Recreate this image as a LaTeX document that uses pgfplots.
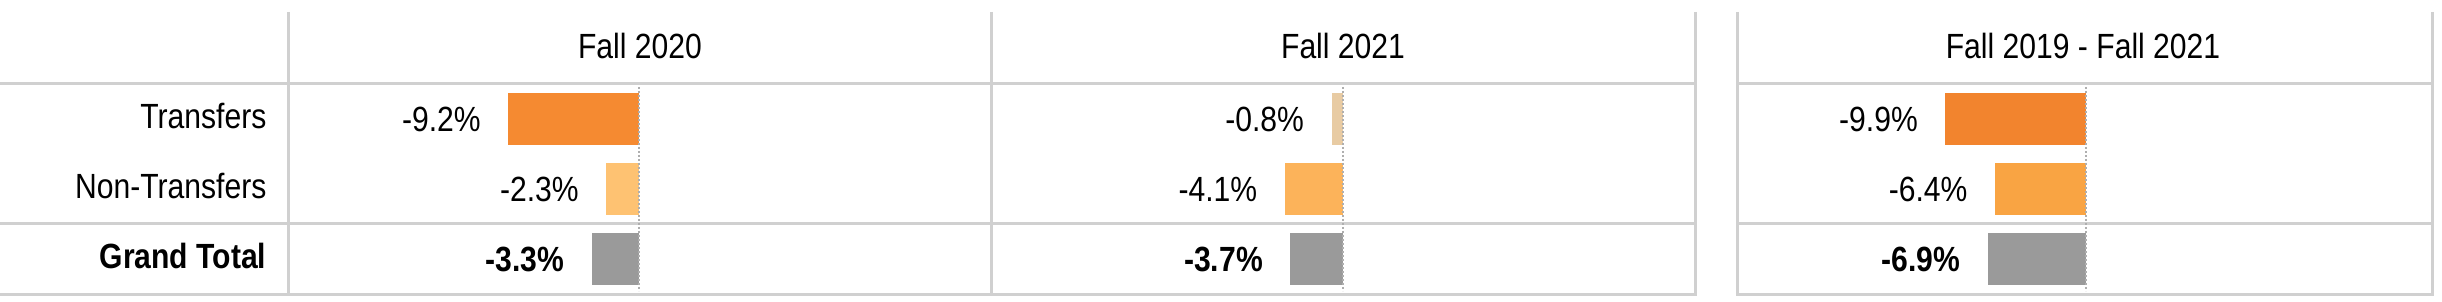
\documentclass[border=0pt]{standalone}
\usepackage{fontspec}
\setmainfont{Liberation Sans}[FakeStretch=0.86]
\usepackage{pgfplots}
\pgfplotsset{compat=1.18}
\definecolor{gridc}{HTML}{D0D0D0}
\definecolor{zeroc}{HTML}{AFAFAF}
\definecolor{tA}{HTML}{F58A31}
\definecolor{nA}{HTML}{FEC272}
\definecolor{tB}{HTML}{E8CBA3}
\definecolor{nB}{HTML}{FCB35A}
\definecolor{tC}{HTML}{F2842E}
\definecolor{nC}{HTML}{F9A443}
\definecolor{gt}{HTML}{9A9A9A}
\newcommand{\fs}{\fontsize{10.5pt}{12pt}\selectfont}
\pgfplotsset{
  panel/.style={
    scale only axis, hide axis, clip=false,
    height=63.3pt,
    anchor=south west,
    y dir=reverse, ymin=83, ymax=294,
  },
  mybar/.style={
    xbar, bar shift=0pt, bar width=52, draw=none, fill=#1,
    point meta=x,
    nodes near coords={\pgfmathprintnumber[fixed,fixed zerofill,precision=1,assume math mode=true]{\pgfplotspointmeta}\%},
    nodes near coords align={horizontal},
    every node near coord/.append style={anchor=east, inner sep=0pt, xshift=-8.1pt, font=\fs, text=black},
  },
  gtbar/.style={
    mybar=gt,
    every node near coord/.append style={font=\fs\bfseries},
  },
  zeroline/.style={draw=zeroc, line width=0.55pt, dash pattern=on 0.6pt off 0.6pt, forget plot},
}
\begin{document}
\begin{tikzpicture}
\useasboundingbox (0,0) rectangle (732.6pt,-90.6pt);
\begin{scope}[x=0.3pt,y=-0.3pt]
  % table grid
  \foreach \yy in {84,223.5,294.5}{
    \draw[gridc, line width=0.9pt] (0,\yy) -- (1696,\yy);
    \draw[gridc, line width=0.9pt] (1736,\yy) -- (2433,\yy);
  }
  \foreach \xx in {288,991,1695,1737,2432}{
    \draw[gridc, line width=0.9pt] (\xx,12) -- (\xx,296);
  }
  % headers
  \node[anchor=base, font=\fs] at (640,59) {Fall 2020};
  \node[anchor=base, font=\fs] at (1343,59) {Fall 2021};
  \node[anchor=base, font=\fs] at (2083,59) {Fall 2019 - Fall 2021};
  % row labels
  \node[anchor=base east, font=\fs, inner sep=0pt] at (267,129) {Transfers};
  \node[anchor=base east, font=\fs, inner sep=0pt] at (267,199) {Non-Transfers};
  \node[anchor=base east, font=\fs\bfseries, inner sep=0pt] at (267,269) {Grand Total};
\end{scope}

\begin{axis}[panel, at={(86.4pt,-88.2pt)}, width=210.9pt, xmin=-24.72, xmax=24.79]
  \addplot[mybar=tA] coordinates {(-9.2,119)};
  \addplot[mybar=nA] coordinates {(-2.3,189)};
  \addplot[gtbar] coordinates {(-3.3,259)};
  \addplot[zeroline] coordinates {(0,87) (0,291)};
\end{axis}

\begin{axis}[panel, at={(297.3pt,-88.2pt)}, width=211.2pt, xmin=-24.79, xmax=24.79]
  \addplot[mybar=tB] coordinates {(-0.8,119)};
  \addplot[mybar=nB] coordinates {(-4.1,189)};
  \addplot[gtbar] coordinates {(-3.7,259)};
  \addplot[zeroline] coordinates {(0,87) (0,291)};
\end{axis}

\begin{axis}[panel, at={(521.1pt,-88.2pt)}, width=208.5pt, xmin=-24.58, xmax=24.37]
  \addplot[mybar=tC] coordinates {(-9.9,119)};
  \addplot[mybar=nC] coordinates {(-6.4,189)};
  \addplot[gtbar] coordinates {(-6.9,259)};
  \addplot[zeroline] coordinates {(0,87) (0,291)};
\end{axis}
\end{tikzpicture}
\end{document}
